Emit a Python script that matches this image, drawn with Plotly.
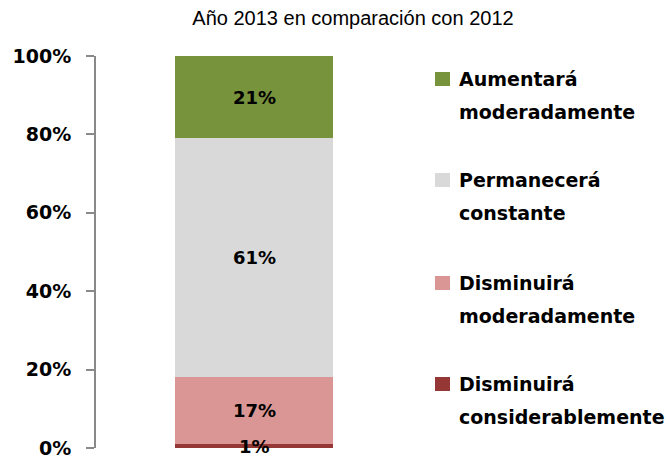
import plotly.graph_objects as go

# Survey answers, stacked bottom to top
categories = ["Disminuirá considerablemente", "Disminuirá moderadamente",
              "Permanecerá constante", "Aumentará moderadamente"]
legend_lines = [["Disminuirá", "considerablemente"], ["Disminuirá", "moderadamente"],
                ["Permanecerá", "constante"], ["Aumentará", "moderadamente"]]
values = [1, 17, 61, 21]
colors = ["#953735", "#D99694", "#D9D9D9", "#77933C"]
bar_x = ["Año 2013"]
title_text = "Año 2013 en comparación con 2012"
tick_vals = [0, 20, 40, 60, 80, 100]
tick_text = ["0%", "20%", "40%", "60%", "80%", "100%"]

W, H = 670, 457
L, R, T, B = 96, 258, 56, 9
plot_w, plot_h = W - L - R, H - T - B

label_font = dict(family="DejaVu Sans", size=19, color="#000000", weight="bold")

fig = go.Figure()
for name, v, c in zip(categories, values, colors):
    fig.add_trace(go.Bar(x=bar_x, y=[v], name=name, marker=dict(color=c, line=dict(width=0)),
                         width=0.5, showlegend=False, hoverinfo="name+y"))

# value labels centred in each segment
cum = 0
for v in values:
    fig.add_annotation(xref="x", yref="y", x=bar_x[0], y=cum + v / 2, text=f"{v}%",
                       showarrow=False,
                       font=dict(family="DejaVu Sans", size=18, color="#000000", weight="bold"),
                       xanchor="center", yanchor="middle")
    cum += v

# legend on the right, top entry first
def px_to_paper_x(px):
    return (px - L) / plot_w

def px_to_paper_y(py):
    return (H - B - py) / plot_h

entry_top = [79, 180, 283, 384]
line_gap = 33
for i, idx in enumerate(reversed(range(len(categories)))):
    y0 = entry_top[i]
    fig.add_shape(type="rect", xref="paper", yref="paper",
                  x0=px_to_paper_x(435), x1=px_to_paper_x(450),
                  y0=px_to_paper_y(y0 - 7), y1=px_to_paper_y(y0 + 7),
                  fillcolor=colors[idx], line=dict(width=0))
    for j, line in enumerate(legend_lines[idx]):
        fig.add_annotation(xref="paper", yref="paper", x=px_to_paper_x(457),
                           y=px_to_paper_y(y0 + j * line_gap), text=line, showarrow=False,
                           xanchor="left", yanchor="middle", font=label_font)

fig.update_layout(
    barmode="stack",
    width=W, height=H,
    margin=dict(l=L, r=R, t=T, b=B, pad=0, autoexpand=False),
    paper_bgcolor="white", plot_bgcolor="white",
    title=dict(text=title_text, x=353 / W, xanchor="center", y=1 - 18 / H, yanchor="middle",
               font=dict(family="Arial, Liberation Sans", size=20, color="#000000")),
    xaxis=dict(type="category", visible=False, range=[-0.5, 0.5], automargin=False),
    yaxis=dict(range=[0, 100], tickvals=tick_vals, ticktext=tick_text,
               showgrid=False, zeroline=False, automargin=False,
               showline=True, linecolor="#898989", linewidth=2,
               ticks="outside", ticklen=8, tickwidth=2, tickcolor="#898989",
               ticklabelstandoff=11, ticklabeloverflow="allow",
               tickfont=dict(family="DejaVu Sans", size=19, color="#000000", weight="bold")),
    showlegend=False,
)

fig.write_html("out.html")
